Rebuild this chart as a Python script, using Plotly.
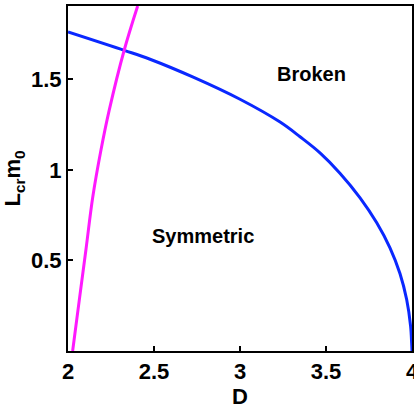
import plotly.graph_objects as go

# Blue curve (critical length, broken/symmetric boundary)
blue_D = [2.0, 2.331, 2.477, 2.728, 3.0, 3.233, 3.349, 3.465, 3.581, 3.698, 3.795, 3.872, 3.930, 3.969, 3.992, 3.998, 4.0]
blue_L = [1.762, 1.659, 1.611, 1.512, 1.390, 1.264, 1.183, 1.094, 0.982, 0.846, 0.708, 0.570, 0.428, 0.284, 0.136, 0.040, 0.0]

# Magenta curve
mag_D = [2.027, 2.066, 2.105, 2.144, 2.192, 2.240, 2.327, 2.405]
mag_L = [0.0, 0.284, 0.565, 0.850, 1.111, 1.331, 1.662, 1.905]

x_ticks = [2, 2.5, 3, 3.5, 4]
x_ticklabels = ["2", "2.5", "3", "3.5", "4"]
y_ticks = [0.5, 1, 1.5]
y_ticklabels = ["0.5", "1", "1.5"]

labels = ["Broken", "Symmetric"]
label_D = [3.413, 2.785]
label_L = [1.530, 0.637]

font_family = "Liberation Sans, Arial, sans-serif"

fig = go.Figure()
fig.add_trace(go.Scatter(x=blue_D, y=blue_L, mode="lines",
                         line=dict(color="#0A28FF", width=3, shape="spline", smoothing=1.0),
                         showlegend=False))
fig.add_trace(go.Scatter(x=mag_D, y=mag_L, mode="lines",
                         line=dict(color="#FF19FF", width=3, shape="spline", smoothing=1.0),
                         showlegend=False))

for t, xd, yd in zip(labels, label_D, label_L):
    fig.add_annotation(x=xd, y=yd, text=t, showarrow=False,
                       font=dict(family=font_family, size=20, color="black", weight="bold"))

axis_common = dict(showgrid=False, zeroline=False, showline=True, linecolor="black",
                   linewidth=2, mirror=True, ticks="inside", ticklen=5, tickwidth=2,
                   tickcolor="black", ticklabeloverflow="allow", automargin=False,
                   tickfont=dict(family=font_family, size=22, color="black", weight="bold"))

fig.update_xaxes(range=[2, 4], tickvals=x_ticks, ticktext=x_ticklabels,
                 title=dict(text="D", font=dict(family=font_family, size=22, color="black", weight="bold"),
                            standoff=2),
                 **axis_common)
fig.update_yaxes(range=[0, 1.905], tickvals=y_ticks, ticktext=y_ticklabels,
                 title=dict(text="L<sub>cr</sub>m<sub>0</sub>",
                            font=dict(family=font_family, size=22, color="black", weight="bold"),
                            standoff=4),
                 **axis_common)

fig.update_layout(width=414, height=409, margin=dict(l=68, r=2, t=6, b=58),
                  plot_bgcolor="white", paper_bgcolor="white")

fig.write_html("out.html")
